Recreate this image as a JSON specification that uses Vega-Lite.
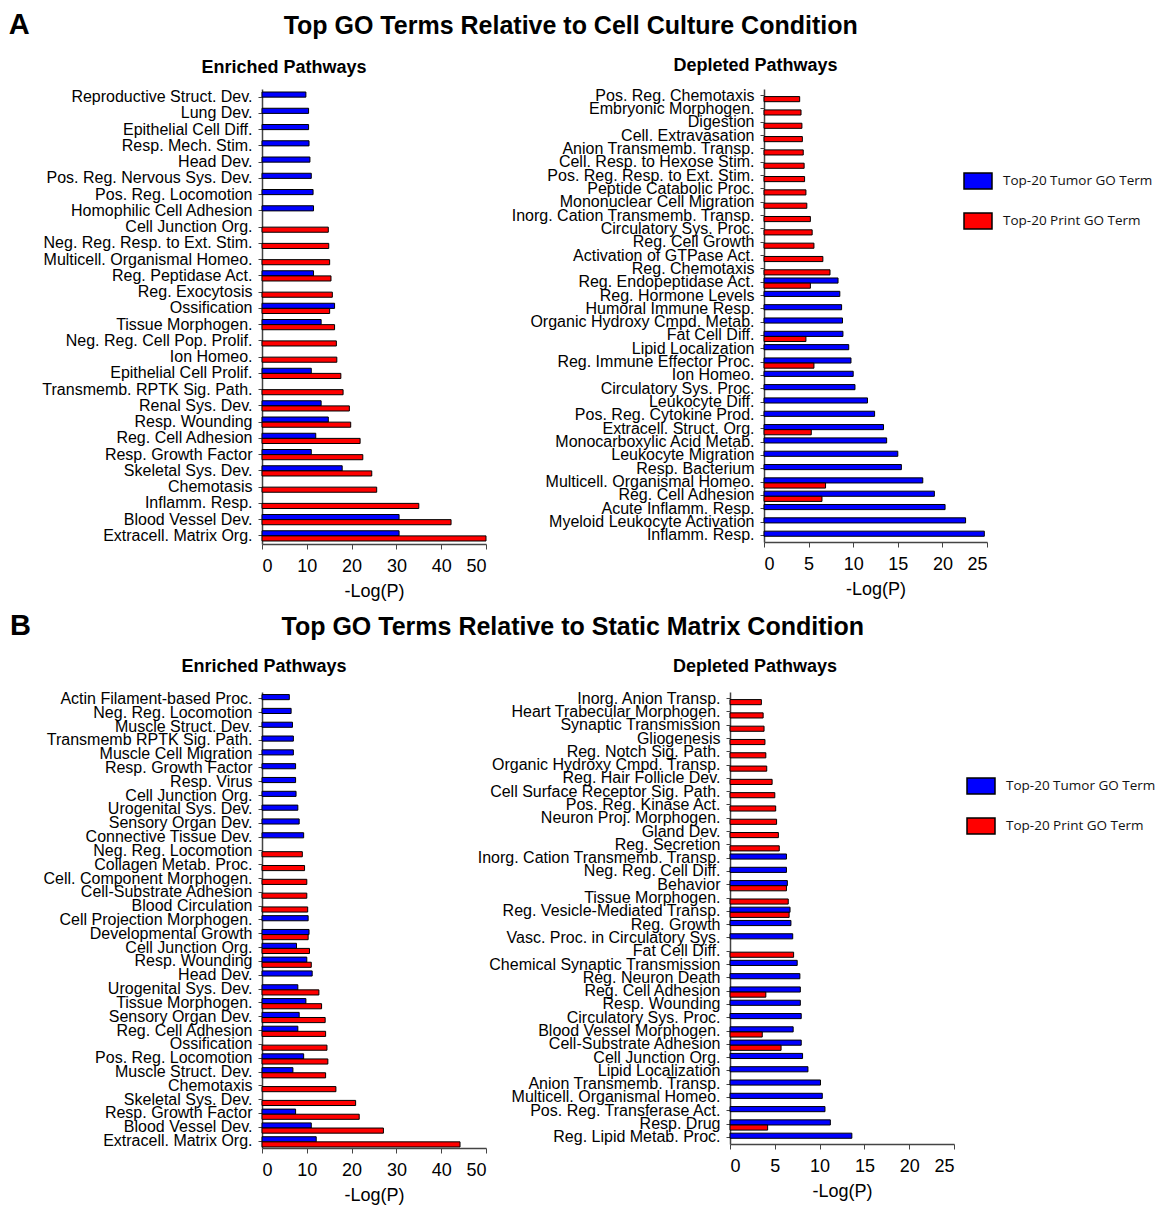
{
  "$schema": "https://vega.github.io/schema/vega-lite/v6.json",
  "background": "white",
  "padding": {"left": 8, "top": 11, "right": 4, "bottom": 4},
  "config": {
    "view": {"stroke": null},
    "font": "Liberation Sans",
    "axis": {"grid": false, "domainColor": "#444444", "tickColor": "#444444", "labelColor": "#000000", "titleColor": "#000000", "labelFont": "Liberation Sans", "titleFont": "Liberation Sans"},
    "axisY": {"labelFontSize": 16, "tickSize": 4, "labelPadding": 6, "labelLimit": 400, "domainWidth": 1.5, "tickWidth": 1},
    "axisX": {"labelFontSize": 18, "titleFontSize": 18, "titleFontWeight": "normal", "tickSize": 5, "labelPadding": 8, "titlePadding": 7, "domainWidth": 1.5, "tickWidth": 1},
    "title": {"font": "Liberation Sans", "color": "#000000", "fontWeight": "bold"},
    "legend": {"symbolType": "M-1,-0.57H1V0.57H-1Z", "symbolSize": 784, "symbolStrokeColor": "#000000", "symbolStrokeWidth": 1.5, "labelFont": "Open Sans", "labelFontSize": 13.5, "labelColor": "#111111", "labelOffset": 10, "rowPadding": 14, "padding": 0, "labelLimit": 300}
  },
  "datasets": {
    "a_enr": [
      {"term": "Reproductive Struct. Dev.", "set": "Tumor", "v": 9.8},
      {"term": "Lung Dev.", "set": "Tumor", "v": 10.4},
      {"term": "Epithelial Cell Diff.", "set": "Tumor", "v": 10.4},
      {"term": "Resp. Mech. Stim.", "set": "Tumor", "v": 10.5},
      {"term": "Head Dev.", "set": "Tumor", "v": 10.7},
      {"term": "Pos. Reg. Nervous Sys. Dev.", "set": "Tumor", "v": 11.0},
      {"term": "Pos. Reg. Locomotion", "set": "Tumor", "v": 11.4},
      {"term": "Homophilic Cell Adhesion", "set": "Tumor", "v": 11.5},
      {"term": "Cell Junction Org.", "set": "Print", "v": 14.8},
      {"term": "Neg. Reg. Resp. to Ext. Stim.", "set": "Print", "v": 14.9},
      {"term": "Multicell. Organismal Homeo.", "set": "Print", "v": 15.1},
      {"term": "Reg. Peptidase Act.", "set": "Tumor", "v": 11.5},
      {"term": "Reg. Peptidase Act.", "set": "Print", "v": 15.4},
      {"term": "Reg. Exocytosis", "set": "Print", "v": 15.7},
      {"term": "Ossification", "set": "Tumor", "v": 16.2},
      {"term": "Ossification", "set": "Print", "v": 15.1},
      {"term": "Tissue Morphogen.", "set": "Tumor", "v": 13.2},
      {"term": "Tissue Morphogen.", "set": "Print", "v": 16.2},
      {"term": "Neg. Reg. Cell Pop. Prolif.", "set": "Print", "v": 16.6},
      {"term": "Ion Homeo.", "set": "Print", "v": 16.7},
      {"term": "Epithelial Cell Prolif.", "set": "Tumor", "v": 11.0},
      {"term": "Epithelial Cell Prolif.", "set": "Print", "v": 17.6},
      {"term": "Transmemb. RPTK Sig. Path.", "set": "Print", "v": 18.1},
      {"term": "Renal Sys. Dev.", "set": "Tumor", "v": 13.2},
      {"term": "Renal Sys. Dev.", "set": "Print", "v": 19.5},
      {"term": "Resp. Wounding", "set": "Tumor", "v": 14.8},
      {"term": "Resp. Wounding", "set": "Print", "v": 19.8},
      {"term": "Reg. Cell Adhesion", "set": "Tumor", "v": 12.0},
      {"term": "Reg. Cell Adhesion", "set": "Print", "v": 21.9},
      {"term": "Resp. Growth Factor", "set": "Tumor", "v": 11.0},
      {"term": "Resp. Growth Factor", "set": "Print", "v": 22.5},
      {"term": "Skeletal Sys. Dev.", "set": "Tumor", "v": 17.9},
      {"term": "Skeletal Sys. Dev.", "set": "Print", "v": 24.5},
      {"term": "Chemotasis", "set": "Print", "v": 25.6},
      {"term": "Inflamm. Resp.", "set": "Print", "v": 35.0},
      {"term": "Blood Vessel Dev.", "set": "Tumor", "v": 30.6},
      {"term": "Blood Vessel Dev.", "set": "Print", "v": 42.2},
      {"term": "Extracell. Matrix Org.", "set": "Tumor", "v": 30.6},
      {"term": "Extracell. Matrix Org.", "set": "Print", "v": 50.0}
    ],
    "a_dep": [
      {"term": "Pos. Reg. Chemotaxis", "set": "Print", "v": 4.0},
      {"term": "Embryonic Morphogen.", "set": "Print", "v": 4.15},
      {"term": "Digestion", "set": "Print", "v": 4.25},
      {"term": "Cell. Extravasation", "set": "Print", "v": 4.3},
      {"term": "Anion Transmemb. Transp.", "set": "Print", "v": 4.4},
      {"term": "Cell. Resp. to Hexose Stim.", "set": "Print", "v": 4.5},
      {"term": "Pos. Reg. Resp. to Ext. Stim.", "set": "Print", "v": 4.55},
      {"term": "Peptide Catabolic Proc.", "set": "Print", "v": 4.7},
      {"term": "Mononuclear Cell Migration", "set": "Print", "v": 4.8},
      {"term": "Inorg. Cation Transmemb. Transp.", "set": "Print", "v": 5.2},
      {"term": "Circulatory Sys. Proc.", "set": "Print", "v": 5.4},
      {"term": "Reg. Cell Growth", "set": "Print", "v": 5.6},
      {"term": "Activation of GTPase Act.", "set": "Print", "v": 6.6},
      {"term": "Reg. Chemotaxis", "set": "Print", "v": 7.4},
      {"term": "Reg. Endopeptidase Act.", "set": "Tumor", "v": 8.3},
      {"term": "Reg. Endopeptidase Act.", "set": "Print", "v": 5.2},
      {"term": "Reg. Hormone Levels", "set": "Tumor", "v": 8.5},
      {"term": "Humoral Immune Resp.", "set": "Tumor", "v": 8.7},
      {"term": "Organic Hydroxy Cmpd. Metab.", "set": "Tumor", "v": 8.8},
      {"term": "Fat Cell Diff.", "set": "Tumor", "v": 8.85},
      {"term": "Fat Cell Diff.", "set": "Print", "v": 4.7},
      {"term": "Lipid Localization", "set": "Tumor", "v": 9.5},
      {"term": "Reg. Immune Effector Proc.", "set": "Tumor", "v": 9.75},
      {"term": "Reg. Immune Effector Proc.", "set": "Print", "v": 5.6},
      {"term": "Ion Homeo.", "set": "Tumor", "v": 10.0},
      {"term": "Circulatory Sys. Proc.#2", "set": "Tumor", "v": 10.2},
      {"term": "Leukocyte Diff.", "set": "Tumor", "v": 11.6},
      {"term": "Pos. Reg. Cytokine Prod.", "set": "Tumor", "v": 12.4},
      {"term": "Extracell. Struct. Org.", "set": "Tumor", "v": 13.4},
      {"term": "Extracell. Struct. Org.", "set": "Print", "v": 5.3},
      {"term": "Monocarboxylic Acid Metab.", "set": "Tumor", "v": 13.75},
      {"term": "Leukocyte Migration", "set": "Tumor", "v": 15.0},
      {"term": "Resp. Bacterium", "set": "Tumor", "v": 15.4},
      {"term": "Multicell. Organismal Homeo.", "set": "Tumor", "v": 17.8},
      {"term": "Multicell. Organismal Homeo.", "set": "Print", "v": 6.9},
      {"term": "Reg. Cell Adhesion", "set": "Tumor", "v": 19.1},
      {"term": "Reg. Cell Adhesion", "set": "Print", "v": 6.5},
      {"term": "Acute Inflamm. Resp.", "set": "Tumor", "v": 20.3},
      {"term": "Myeloid Leukocyte Activation", "set": "Tumor", "v": 22.6},
      {"term": "Inflamm. Resp.", "set": "Tumor", "v": 24.7}
    ],
    "b_enr": [
      {"term": "Actin Filament-based Proc.", "set": "Tumor", "v": 6.1},
      {"term": "Neg. Reg. Locomotion", "set": "Tumor", "v": 6.5},
      {"term": "Muscle Struct. Dev.", "set": "Tumor", "v": 6.8},
      {"term": "Transmemb RPTK Sig. Path.", "set": "Tumor", "v": 7.0},
      {"term": "Muscle Cell Migration", "set": "Tumor", "v": 7.0},
      {"term": "Resp. Growth Factor", "set": "Tumor", "v": 7.5},
      {"term": "Resp. Virus", "set": "Tumor", "v": 7.5},
      {"term": "Cell Junction Org.", "set": "Tumor", "v": 7.6},
      {"term": "Urogenital Sys. Dev.", "set": "Tumor", "v": 8.0},
      {"term": "Sensory Organ Dev.", "set": "Tumor", "v": 8.3},
      {"term": "Connective Tissue Dev.", "set": "Tumor", "v": 9.3},
      {"term": "Neg. Reg. Locomotion#2", "set": "Print", "v": 9.0},
      {"term": "Collagen Metab. Proc.", "set": "Print", "v": 9.5},
      {"term": "Cell. Component Morphogen.", "set": "Print", "v": 10.0},
      {"term": "Cell-Substrate Adhesion", "set": "Print", "v": 10.0},
      {"term": "Blood Circulation", "set": "Print", "v": 10.2},
      {"term": "Cell Projection Morphogen.", "set": "Tumor", "v": 10.3},
      {"term": "Developmental Growth", "set": "Tumor", "v": 10.5},
      {"term": "Developmental Growth", "set": "Print", "v": 10.3},
      {"term": "Cell Junction Org.#2", "set": "Tumor", "v": 7.7},
      {"term": "Cell Junction Org.#2", "set": "Print", "v": 10.6},
      {"term": "Resp. Wounding", "set": "Tumor", "v": 10.0},
      {"term": "Resp. Wounding", "set": "Print", "v": 11.0},
      {"term": "Head Dev.", "set": "Tumor", "v": 11.2},
      {"term": "Urogenital Sys. Dev.#2", "set": "Tumor", "v": 8.0},
      {"term": "Urogenital Sys. Dev.#2", "set": "Print", "v": 12.7},
      {"term": "Tissue Morphogen.", "set": "Tumor", "v": 9.8},
      {"term": "Tissue Morphogen.", "set": "Print", "v": 13.3},
      {"term": "Sensory Organ Dev.#2", "set": "Tumor", "v": 8.3},
      {"term": "Sensory Organ Dev.#2", "set": "Print", "v": 14.1},
      {"term": "Reg. Cell Adhesion", "set": "Tumor", "v": 8.0},
      {"term": "Reg. Cell Adhesion", "set": "Print", "v": 14.2},
      {"term": "Ossification", "set": "Print", "v": 14.5},
      {"term": "Pos. Reg. Locomotion", "set": "Tumor", "v": 9.3},
      {"term": "Pos. Reg. Locomotion", "set": "Print", "v": 14.7},
      {"term": "Muscle Struct. Dev.#2", "set": "Tumor", "v": 6.9},
      {"term": "Muscle Struct. Dev.#2", "set": "Print", "v": 14.2},
      {"term": "Chemotaxis", "set": "Print", "v": 16.5},
      {"term": "Skeletal Sys. Dev.", "set": "Print", "v": 20.9},
      {"term": "Resp. Growth Factor#2", "set": "Tumor", "v": 7.5},
      {"term": "Resp. Growth Factor#2", "set": "Print", "v": 21.7},
      {"term": "Blood Vessel Dev.", "set": "Tumor", "v": 11.0},
      {"term": "Blood Vessel Dev.", "set": "Print", "v": 27.1},
      {"term": "Extracell. Matrix Org.", "set": "Tumor", "v": 12.1},
      {"term": "Extracell. Matrix Org.", "set": "Print", "v": 44.2}
    ],
    "b_dep": [
      {"term": "Inorg. Anion Transp.", "set": "Print", "v": 3.5},
      {"term": "Heart Trabecular Morphogen.", "set": "Print", "v": 3.7},
      {"term": "Synaptic Transmission", "set": "Print", "v": 3.8},
      {"term": "Gliogenesis", "set": "Print", "v": 3.9},
      {"term": "Reg. Notch Sig. Path.", "set": "Print", "v": 4.0},
      {"term": "Organic Hydroxy Cmpd. Transp.", "set": "Print", "v": 4.1},
      {"term": "Reg. Hair Follicle Dev.", "set": "Print", "v": 4.7},
      {"term": "Cell Surface Receptor Sig. Path.", "set": "Print", "v": 5.0},
      {"term": "Pos. Reg. Kinase Act.", "set": "Print", "v": 5.1},
      {"term": "Neuron Proj. Morphogen.", "set": "Print", "v": 5.2},
      {"term": "Gland Dev.", "set": "Print", "v": 5.4},
      {"term": "Reg. Secretion", "set": "Print", "v": 5.5},
      {"term": "Inorg. Cation Transmemb. Transp.", "set": "Tumor", "v": 6.3},
      {"term": "Neg. Reg. Cell Diff.", "set": "Tumor", "v": 6.3},
      {"term": "Behavior", "set": "Tumor", "v": 6.4},
      {"term": "Behavior", "set": "Print", "v": 6.3},
      {"term": "Tissue Morphogen.", "set": "Print", "v": 6.5},
      {"term": "Reg. Vesicle-Mediated Transp.", "set": "Tumor", "v": 6.7},
      {"term": "Reg. Vesicle-Mediated Transp.", "set": "Print", "v": 6.6},
      {"term": "Reg. Growth", "set": "Tumor", "v": 6.8},
      {"term": "Vasc. Proc. in Circulatory Sys.", "set": "Tumor", "v": 7.0},
      {"term": "Fat Cell Diff.", "set": "Print", "v": 7.1},
      {"term": "Chemical Synaptic Transmission", "set": "Tumor", "v": 7.5},
      {"term": "Reg. Neuron Death", "set": "Tumor", "v": 7.8},
      {"term": "Reg. Cell Adhesion", "set": "Tumor", "v": 7.85},
      {"term": "Reg. Cell Adhesion", "set": "Print", "v": 4.0},
      {"term": "Resp. Wounding", "set": "Tumor", "v": 7.85},
      {"term": "Circulatory Sys. Proc.", "set": "Tumor", "v": 7.95},
      {"term": "Blood Vessel Morphogen.", "set": "Tumor", "v": 7.05},
      {"term": "Blood Vessel Morphogen.", "set": "Print", "v": 3.6},
      {"term": "Cell-Substrate Adhesion", "set": "Tumor", "v": 7.95},
      {"term": "Cell-Substrate Adhesion", "set": "Print", "v": 5.7},
      {"term": "Cell Junction Org.", "set": "Tumor", "v": 8.1},
      {"term": "Lipid Localization", "set": "Tumor", "v": 8.7},
      {"term": "Anion Transmemb. Transp.", "set": "Tumor", "v": 10.1},
      {"term": "Multicell. Organismal Homeo.", "set": "Tumor", "v": 10.3},
      {"term": "Pos. Reg. Transferase Act.", "set": "Tumor", "v": 10.6},
      {"term": "Resp. Drug", "set": "Tumor", "v": 11.2},
      {"term": "Resp. Drug", "set": "Print", "v": 4.2},
      {"term": "Reg. Lipid Metab. Proc.", "set": "Tumor", "v": 13.6}
    ]
  },
  "resolve": {"scale": {"color": "independent"}},
  "spacing": 12,
  "vconcat": [
    {
      "title": {"text": "A", "anchor": "start", "frame": "bounds", "fontSize": 29, "dx": -33, "dy": 26, "offset": 0},
      "bounds": "flush",
      "vconcat": [
        {
          "title": {"text": "Top GO Terms Relative to Cell Culture Condition", "anchor": "middle", "frame": "bounds", "fontSize": 25, "dx": 56, "offset": 18},
          "bounds": "flush",
          "spacing": 278,
          "hconcat": [
            {
              "width": 224, "height": 455,
              "data": {"name": "a_enr"},
              "title": {"text": "Enriched Pathways", "anchor": "middle", "frame": "group", "fontSize": 18, "dx": -90, "offset": 12},
              "mark": {"type": "bar", "stroke": "#000000", "strokeWidth": 1},
              "encoding": {
                "y": {"field": "term", "type": "nominal", "sort": null, "scale": {"paddingInner": 0.37, "paddingOuter": 0.185}, "axis": {"title": null, "labelExpr": "replace(datum.label, '#2', '')"}},
                "yOffset": {"field": "set", "type": "nominal", "scale": {"domain": ["Tumor", "Print"], "paddingInner": 0, "paddingOuter": 0}},
                "x": {"field": "v", "type": "quantitative", "scale": {"domain": [0, 50], "nice": false}, "axis": {"values": [0, 10, 20, 30, 40, 50], "title": "-Log(P)"}},
                "color": {"field": "set", "type": "nominal", "scale": {"domain": ["Tumor", "Print"], "range": ["#0000ff", "#ff0000"]}, "legend": {"title": null, "orient": "none", "legendX": 701, "legendY": 77, "labelExpr": "'Top-20 ' + datum.label + ' GO Term'"}}
              }
            },
            {
              "width": 223, "height": 453,
              "data": {"name": "a_dep"},
              "title": {"text": "Depleted Pathways", "anchor": "middle", "frame": "group", "fontSize": 18, "dx": -120, "offset": 12},
              "mark": {"type": "bar", "stroke": "#000000", "strokeWidth": 1},
              "encoding": {
                "y": {"field": "term", "type": "nominal", "sort": null, "scale": {"paddingInner": 0.37, "paddingOuter": 0.185}, "axis": {"title": null, "labelExpr": "replace(datum.label, '#2', '')"}},
                "yOffset": {"field": "set", "type": "nominal", "scale": {"domain": ["Tumor", "Print"], "paddingInner": 0, "paddingOuter": 0}},
                "x": {"field": "v", "type": "quantitative", "scale": {"domain": [0, 25], "nice": false}, "axis": {"values": [0, 5, 10, 15, 20, 25], "title": "-Log(P)"}},
                "color": {"field": "set", "type": "nominal", "scale": {"domain": ["Tumor", "Print"], "range": ["#0000ff", "#ff0000"]}, "legend": {"title": null, "orient": "none", "legendX": 701, "legendY": 77, "labelExpr": "'Top-20 ' + datum.label + ' GO Term'"}}
              }
            }
          ]
        }
      ]
    },
    {
      "title": {"text": "B", "anchor": "start", "frame": "bounds", "fontSize": 29, "dx": -33, "dy": 26, "offset": 0},
      "bounds": "flush",
      "vconcat": [
        {
          "title": {"text": "Top GO Terms Relative to Static Matrix Condition", "anchor": "middle", "frame": "bounds", "fontSize": 25, "dx": 74, "offset": 18},
          "bounds": "flush",
          "spacing": 244,
          "hconcat": [
            {
              "width": 224, "height": 456,
              "data": {"name": "b_enr"},
              "title": {"text": "Enriched Pathways", "anchor": "middle", "frame": "group", "fontSize": 18, "dx": -110, "offset": 14},
              "mark": {"type": "bar", "stroke": "#000000", "strokeWidth": 1},
              "encoding": {
                "y": {"field": "term", "type": "nominal", "sort": null, "scale": {"paddingInner": 0.37, "paddingOuter": 0.185}, "axis": {"title": null, "labelExpr": "replace(datum.label, '#2', '')"}},
                "yOffset": {"field": "set", "type": "nominal", "scale": {"domain": ["Tumor", "Print"], "paddingInner": 0, "paddingOuter": 0}},
                "x": {"field": "v", "type": "quantitative", "scale": {"domain": [0, 50], "nice": false}, "axis": {"values": [0, 10, 20, 30, 40, 50], "title": "-Log(P)"}},
                "color": {"field": "set", "type": "nominal", "scale": {"domain": ["Tumor", "Print"], "range": ["#0000ff", "#ff0000"]}, "legend": {"title": null, "orient": "none", "legendX": 704, "legendY": 79, "labelExpr": "'Top-20 ' + datum.label + ' GO Term'"}}
              }
            },
            {
              "width": 224, "height": 452,
              "data": {"name": "b_dep"},
              "title": {"text": "Depleted Pathways", "anchor": "middle", "frame": "group", "fontSize": 18, "dx": -87, "offset": 14},
              "mark": {"type": "bar", "stroke": "#000000", "strokeWidth": 1},
              "encoding": {
                "y": {"field": "term", "type": "nominal", "sort": null, "scale": {"paddingInner": 0.37, "paddingOuter": 0.185}, "axis": {"title": null, "labelExpr": "replace(datum.label, '#2', '')"}},
                "yOffset": {"field": "set", "type": "nominal", "scale": {"domain": ["Tumor", "Print"], "paddingInner": 0, "paddingOuter": 0}},
                "x": {"field": "v", "type": "quantitative", "scale": {"domain": [0, 25], "nice": false}, "axis": {"values": [0, 5, 10, 15, 20, 25], "title": "-Log(P)"}},
                "color": {"field": "set", "type": "nominal", "scale": {"domain": ["Tumor", "Print"], "range": ["#0000ff", "#ff0000"]}, "legend": {"title": null, "orient": "none", "legendX": 704, "legendY": 79, "labelExpr": "'Top-20 ' + datum.label + ' GO Term'"}}
              }
            }
          ]
        }
      ]
    }
  ]
}
